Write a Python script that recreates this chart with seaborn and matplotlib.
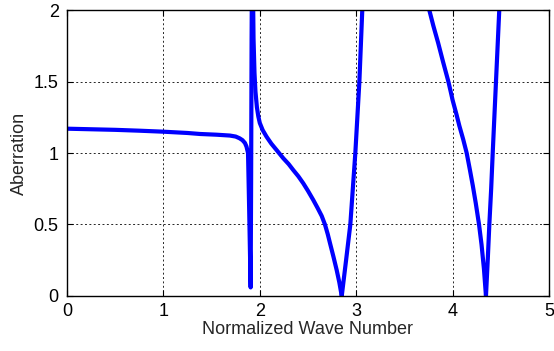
import numpy as np
import pandas as pd
import matplotlib
matplotlib.use("Agg")
import matplotlib.pyplot as plt
import seaborn as sns

# Branch 1: slowly decaying plateau, then the narrow resonance spike
x_branch1 = [0.0, 0.25, 0.5, 0.75, 1.0, 1.25, 1.38, 1.55, 1.69, 1.75, 1.79, 1.82,
             1.846, 1.862, 1.878, 1.89, 1.905, 1.91, 1.915, 1.92]
y_branch1 = [1.170, 1.166, 1.162, 1.156, 1.149, 1.140, 1.133, 1.128, 1.122, 1.115,
             1.103, 1.090, 1.070, 1.045, 1.000, 0.600, 0.060, 0.800, 1.800, 2.400]

# Branch 2: descending from the pole, first zero, rising again
x_branch2 = [1.925, 1.935, 1.945, 1.955, 1.97, 1.985, 2.0, 2.03, 2.07, 2.12, 2.175,
             2.244, 2.30, 2.348, 2.40, 2.451, 2.50, 2.555, 2.60, 2.642, 2.676, 2.705,
             2.728, 2.765, 2.798, 2.825, 2.85, 2.895, 2.939, 2.965, 2.991, 3.012,
             3.033, 3.048, 3.063, 3.08]
y_branch2 = [2.400, 1.800, 1.560, 1.430, 1.320, 1.255, 1.210, 1.160, 1.114, 1.065,
             1.020, 0.963, 0.922, 0.880, 0.837, 0.788, 0.735, 0.671, 0.615, 0.560,
             0.500, 0.432, 0.370, 0.272, 0.180, 0.095, 0.000, 0.250, 0.500, 0.750,
             1.000, 1.250, 1.500, 1.750, 2.000, 2.250]

# Branch 3: second descending branch, second zero, rising again
x_branch3 = [3.74, 3.758, 3.80, 3.85, 3.90, 3.956, 3.98, 4.0, 4.04, 4.07, 4.11,
             4.146, 4.18, 4.21, 4.24, 4.274, 4.30, 4.325, 4.346, 4.365, 4.381,
             4.40, 4.416, 4.433, 4.45, 4.467, 4.484, 4.495]
y_branch3 = [2.050, 2.000, 1.890, 1.770, 1.640, 1.500, 1.430, 1.370, 1.270, 1.190,
             1.095, 1.000, 0.880, 0.770, 0.650, 0.500, 0.360, 0.190, 0.000, 0.260,
             0.500, 0.750, 1.000, 1.250, 1.500, 1.750, 2.000, 2.150]

x_ticks = [0, 1, 2, 3, 4, 5]
y_ticks = [0, 0.5, 1, 1.5, 2]
y_tick_labels = ["0", "0.5", "1", "1.5", "2"]

df = pd.concat([
    pd.DataFrame({"x": x_branch1, "y": y_branch1, "seg": 1}),
    pd.DataFrame({"x": x_branch2, "y": y_branch2, "seg": 2}),
    pd.DataFrame({"x": x_branch3, "y": y_branch3, "seg": 3}),
], ignore_index=True)

sns.set_style("white")
plt.rcParams["font.family"] = ["Liberation Sans", "DejaVu Sans"]

fig = plt.figure(figsize=(5.54, 3.51), dpi=100)
ax = fig.add_axes([0.1209, 0.1567, 0.8701, 0.8148])

sns.lineplot(data=df, x="x", y="y", units="seg", estimator=None, sort=False,
             color="#0000FF", linewidth=3.0, ax=ax, legend=False)

ax.set_xlim(0, 5)
ax.set_ylim(0, 2)
ax.set_xticks(x_ticks)
ax.set_xticklabels([str(t) for t in x_ticks])
ax.set_yticks(y_ticks)
ax.set_yticklabels(y_tick_labels)

ax.grid(True, color="black", linestyle=(0, (2, 2.5)), linewidth=0.7, alpha=0.85)
ax.set_axisbelow(True)

for sp in ax.spines.values():
    sp.set_color("black")
    sp.set_linewidth(1.0)
    sp.set_visible(True)

ax.tick_params(axis="both", direction="in", length=4, width=0.8, colors="black",
               labelsize=13, top=True, right=True, bottom=True, left=True)
ax.tick_params(axis="x", pad=5)
ax.tick_params(axis="y", pad=6)

ax.set_xlabel("Normalized Wave Number", fontsize=13, labelpad=1)
ax.set_ylabel("Aberration", fontsize=13, labelpad=4)

fig.savefig("out.png", dpi=100)
